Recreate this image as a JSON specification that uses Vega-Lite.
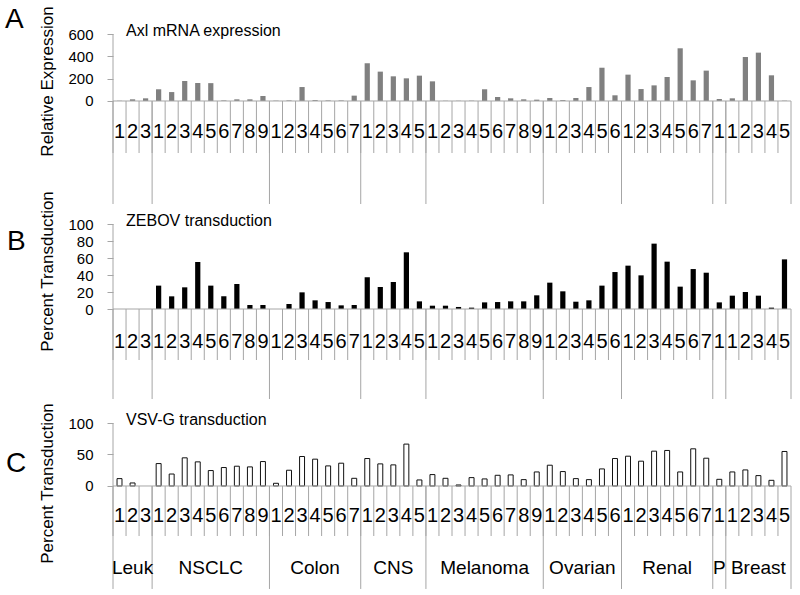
{
  "$schema": "https://vega.github.io/schema/vega-lite/v6.json",
  "background": "white",
  "padding": {"left": 5, "top": 5, "right": 5, "bottom": 5},
  "bounds": "flush",
  "spacing": 0,
  "config": {
    "font": "Liberation Sans",
    "view": {"stroke": null},
    "axis": {"grid": false, "labelColor": "#000000", "titleColor": "#000000", "labelOverlap": false, "labelFlush": false},
    "title": {"color": "#000000"}
  },
  "data": {"values": [
    {"id": "Leuk-1", "grp": "Leuk", "n": "1", "axl": 2, "zebov": 0, "vsv": 11.7},
    {"id": "Leuk-2", "grp": "Leuk", "n": "2", "axl": 15, "zebov": 0, "vsv": 4.8},
    {"id": "Leuk-3", "grp": "Leuk", "n": "3", "axl": 24, "zebov": 0, "vsv": 0},
    {"id": "NSCLC-1", "grp": "NSCLC", "n": "1", "axl": 105, "zebov": 27.5, "vsv": 35.6},
    {"id": "NSCLC-2", "grp": "NSCLC", "n": "2", "axl": 80, "zebov": 14.9, "vsv": 19},
    {"id": "NSCLC-3", "grp": "NSCLC", "n": "3", "axl": 179, "zebov": 25.5, "vsv": 44.7},
    {"id": "NSCLC-4", "grp": "NSCLC", "n": "4", "axl": 161, "zebov": 55.3, "vsv": 38.3},
    {"id": "NSCLC-5", "grp": "NSCLC", "n": "5", "axl": 160, "zebov": 27.5, "vsv": 24.5},
    {"id": "NSCLC-6", "grp": "NSCLC", "n": "6", "axl": 5, "zebov": 15, "vsv": 29.3},
    {"id": "NSCLC-7", "grp": "NSCLC", "n": "7", "axl": 15, "zebov": 29.4, "vsv": 31.4},
    {"id": "NSCLC-8", "grp": "NSCLC", "n": "8", "axl": 15, "zebov": 4.7, "vsv": 30.3},
    {"id": "NSCLC-9", "grp": "NSCLC", "n": "9", "axl": 45, "zebov": 4.7, "vsv": 38.8},
    {"id": "Colon-1", "grp": "Colon", "n": "1", "axl": 3, "zebov": 0, "vsv": 4.3},
    {"id": "Colon-2", "grp": "Colon", "n": "2", "axl": 5, "zebov": 5.9, "vsv": 25},
    {"id": "Colon-3", "grp": "Colon", "n": "3", "axl": 125, "zebov": 19.6, "vsv": 46.8},
    {"id": "Colon-4", "grp": "Colon", "n": "4", "axl": 8, "zebov": 10.2, "vsv": 42.6},
    {"id": "Colon-5", "grp": "Colon", "n": "5", "axl": 5, "zebov": 8.2, "vsv": 31.9},
    {"id": "Colon-6", "grp": "Colon", "n": "6", "axl": 5, "zebov": 4.3, "vsv": 36.2},
    {"id": "Colon-7", "grp": "Colon", "n": "7", "axl": 48, "zebov": 4.7, "vsv": 12.2},
    {"id": "CNS-1", "grp": "CNS", "n": "1", "axl": 337, "zebov": 37.3, "vsv": 43.6},
    {"id": "CNS-2", "grp": "CNS", "n": "2", "axl": 263, "zebov": 25.9, "vsv": 35.1},
    {"id": "CNS-3", "grp": "CNS", "n": "3", "axl": 221, "zebov": 31.8, "vsv": 33.5},
    {"id": "CNS-4", "grp": "CNS", "n": "4", "axl": 203, "zebov": 66.7, "vsv": 66.5},
    {"id": "CNS-5", "grp": "CNS", "n": "5", "axl": 227, "zebov": 9, "vsv": 9.6},
    {"id": "Melanoma-1", "grp": "Melanoma", "n": "1", "axl": 176, "zebov": 3.9, "vsv": 18.1},
    {"id": "Melanoma-2", "grp": "Melanoma", "n": "2", "axl": 2, "zebov": 3.9, "vsv": 12.2},
    {"id": "Melanoma-3", "grp": "Melanoma", "n": "3", "axl": 2, "zebov": 2.4, "vsv": 1.6},
    {"id": "Melanoma-4", "grp": "Melanoma", "n": "4", "axl": 3, "zebov": 1.6, "vsv": 13.3},
    {"id": "Melanoma-5", "grp": "Melanoma", "n": "5", "axl": 105, "zebov": 7.8, "vsv": 11.2},
    {"id": "Melanoma-6", "grp": "Melanoma", "n": "6", "axl": 36, "zebov": 8.2, "vsv": 17},
    {"id": "Melanoma-7", "grp": "Melanoma", "n": "7", "axl": 24, "zebov": 9, "vsv": 17.6},
    {"id": "Melanoma-8", "grp": "Melanoma", "n": "8", "axl": 15, "zebov": 9, "vsv": 10.1},
    {"id": "Melanoma-9", "grp": "Melanoma", "n": "9", "axl": 12, "zebov": 16.1, "vsv": 22.3},
    {"id": "Ovarian-1", "grp": "Ovarian", "n": "1", "axl": 27, "zebov": 31, "vsv": 33},
    {"id": "Ovarian-2", "grp": "Ovarian", "n": "2", "axl": 8, "zebov": 20.8, "vsv": 22.9},
    {"id": "Ovarian-3", "grp": "Ovarian", "n": "3", "axl": 27, "zebov": 8.6, "vsv": 11.7},
    {"id": "Ovarian-4", "grp": "Ovarian", "n": "4", "axl": 125, "zebov": 10.2, "vsv": 10.1},
    {"id": "Ovarian-5", "grp": "Ovarian", "n": "5", "axl": 298, "zebov": 27.5, "vsv": 27.1},
    {"id": "Ovarian-6", "grp": "Ovarian", "n": "6", "axl": 51, "zebov": 43.5, "vsv": 43.6},
    {"id": "Renal-1", "grp": "Renal", "n": "1", "axl": 236, "zebov": 51, "vsv": 47.3},
    {"id": "Renal-2", "grp": "Renal", "n": "2", "axl": 107, "zebov": 39.6, "vsv": 39.4},
    {"id": "Renal-3", "grp": "Renal", "n": "3", "axl": 140, "zebov": 76.9, "vsv": 55.3},
    {"id": "Renal-4", "grp": "Renal", "n": "4", "axl": 215, "zebov": 55.7, "vsv": 56.4},
    {"id": "Renal-5", "grp": "Renal", "n": "5", "axl": 472, "zebov": 26.3, "vsv": 22.3},
    {"id": "Renal-6", "grp": "Renal", "n": "6", "axl": 185, "zebov": 47, "vsv": 59},
    {"id": "Renal-7", "grp": "Renal", "n": "7", "axl": 272, "zebov": 42.7, "vsv": 44.1},
    {"id": "P-1", "grp": "P", "n": "1", "axl": 18, "zebov": 7.8, "vsv": 10.6},
    {"id": "Breast-1", "grp": "Breast", "n": "1", "axl": 24, "zebov": 15.7, "vsv": 22.3},
    {"id": "Breast-2", "grp": "Breast", "n": "2", "axl": 394, "zebov": 20, "vsv": 25.5},
    {"id": "Breast-3", "grp": "Breast", "n": "3", "axl": 433, "zebov": 15.7, "vsv": 16.5},
    {"id": "Breast-4", "grp": "Breast", "n": "4", "axl": 230, "zebov": 1.6, "vsv": 9},
    {"id": "Breast-5", "grp": "Breast", "n": "5", "axl": 3, "zebov": 58.4, "vsv": 54.8}
  ]},
  "vconcat": [
    {
      "width": 678,
      "height": 190,
      "title": {"text": "A", "anchor": "start", "frame": "group", "dx": -108, "offset": -28, "fontSize": 28, "fontWeight": "normal"},
      "layer": [
        {
          "mark": {"type": "bar", "color": "#808080", "width": {"band": 0.4}},
          "encoding": {
            "x": {"field": "id", "type": "nominal", "sort": null, "axis": null, "scale": {"paddingInner": 0, "paddingOuter": 0}},
            "y": {"field": "axl", "type": "quantitative",
              "scale": {"domain": [-1101.5, 600], "nice": false, "zero": false},
              "axis": {"values": [0, 200, 400, 600], "tickCount": 20, "title": "Relative Expression", "domain": false, "tickColor": "#a6a6a6", "tickSize": 6, "labelFontSize": 15, "labelPadding": 14, "labelOverlap": false, "labelFlush": false, "titleFontSize": 17, "titleFontWeight": "normal", "titleX": -66, "titleY": 47, "titleBaseline": "middle", "titleAlign": "center"}},
            "y2": {"datum": 0}
          }
        },
        {
          "mark": {"type": "rule", "color": "#a6a6a6"},
          "encoding": {
            "x": {"field": "id", "type": "nominal", "sort": null, "axis": null, "bandPosition": 0},
            "y": {"datum": 0}, "y2": {"datum": -922.4},
            "strokeOpacity": {"condition": {"test": "datum.n === '1'", "value": 1}, "value": 0}
          }
        },
        {
          "mark": {"type": "rule", "color": "#a6a6a6"},
          "encoding": {
            "x": {"field": "id", "type": "nominal", "sort": null, "axis": null, "bandPosition": 1},
            "y": {"datum": 0}, "y2": {"datum": -922.4},
            "strokeOpacity": {"condition": {"test": "datum.id === 'Breast-5'", "value": 1}, "value": 0}
          }
        },
        {
          "mark": {"type": "rule", "color": "#a6a6a6"},
          "encoding": {
            "x": {"field": "id", "type": "nominal", "sort": null, "axis": null, "bandPosition": 0},
            "y": {"datum": 600}, "y2": {"datum": 0},
            "strokeOpacity": {"condition": {"test": "datum.id === 'Leuk-1'", "value": 1}, "value": 0}
          }
        },
        {
          "mark": {"type": "rule", "color": "#a6a6a6"},
          "encoding": {
            "x": {"field": "id", "type": "nominal", "sort": null, "axis": null, "bandPosition": 0},
            "y": {"datum": 0}, "y2": {"datum": -465.7}
          }
        },
        {
          "mark": {"type": "rule", "color": "#a6a6a6"},
          "encoding": {
            "y": {"datum": 0},
            "strokeOpacity": {"condition": {"test": "datum.id === 'Leuk-1'", "value": 1}, "value": 0}
          }
        },
        {
          "mark": {"type": "text", "fontSize": 20, "baseline": "middle", "align": "center"},
          "encoding": {
            "x": {"field": "id", "type": "nominal", "sort": null, "axis": null},
            "y": {"datum": -277.6},
            "text": {"field": "n"}
          }
        },
        {
          "mark": {"type": "text", "fontSize": 16, "baseline": "middle", "align": "left", "dx": 6.5, "dy": -3},
          "encoding": {
            "x": {"field": "id", "type": "nominal", "sort": null, "axis": null},
            "y": {"datum": 600},
            "text": {"condition": {"test": "datum.id === 'Leuk-1'", "value": "Axl mRNA expression"}, "value": ""}
          }
        }
      ]
    },
    {
      "width": 678,
      "height": 199,
      "title": {"text": "B", "anchor": "start", "frame": "group", "dx": -106, "offset": -65.6, "fontSize": 28, "fontWeight": "normal"},
      "layer": [
        {
          "mark": {"type": "bar", "color": "#000000", "width": {"band": 0.4}},
          "encoding": {
            "x": {"field": "id", "type": "nominal", "sort": null, "axis": null, "scale": {"paddingInner": 0, "paddingOuter": 0}},
            "y": {"field": "zebov", "type": "quantitative",
              "scale": {"domain": [-134.1, 100], "nice": false, "zero": false},
              "axis": {"values": [0, 20, 40, 60, 80, 100], "tickCount": 20, "title": "Percent Transduction", "domain": false, "tickColor": "#a6a6a6", "tickSize": 6, "labelFontSize": 15, "labelPadding": 14, "labelOverlap": false, "labelFlush": false, "titleFontSize": 17, "titleFontWeight": "normal", "titleX": -66, "titleY": 47, "titleBaseline": "middle", "titleAlign": "center"}},
            "y2": {"datum": 0}
          }
        },
        {
          "mark": {"type": "rule", "color": "#a6a6a6"},
          "encoding": {
            "x": {"field": "id", "type": "nominal", "sort": null, "axis": null, "bandPosition": 0},
            "y": {"datum": 0}, "y2": {"datum": -105.9},
            "strokeOpacity": {"condition": {"test": "datum.n === '1'", "value": 1}, "value": 0}
          }
        },
        {
          "mark": {"type": "rule", "color": "#a6a6a6"},
          "encoding": {
            "x": {"field": "id", "type": "nominal", "sort": null, "axis": null, "bandPosition": 1},
            "y": {"datum": 0}, "y2": {"datum": -105.9},
            "strokeOpacity": {"condition": {"test": "datum.id === 'Breast-5'", "value": 1}, "value": 0}
          }
        },
        {
          "mark": {"type": "rule", "color": "#a6a6a6"},
          "encoding": {
            "x": {"field": "id", "type": "nominal", "sort": null, "axis": null, "bandPosition": 0},
            "y": {"datum": 100}, "y2": {"datum": 0},
            "strokeOpacity": {"condition": {"test": "datum.id === 'Leuk-1'", "value": 1}, "value": 0}
          }
        },
        {
          "mark": {"type": "rule", "color": "#a6a6a6"},
          "encoding": {
            "x": {"field": "id", "type": "nominal", "sort": null, "axis": null, "bandPosition": 0},
            "y": {"datum": 0}, "y2": {"datum": -60}
          }
        },
        {
          "mark": {"type": "rule", "color": "#a6a6a6"},
          "encoding": {
            "y": {"datum": 0},
            "strokeOpacity": {"condition": {"test": "datum.id === 'Leuk-1'", "value": 1}, "value": 0}
          }
        },
        {
          "mark": {"type": "text", "fontSize": 20, "baseline": "middle", "align": "center"},
          "encoding": {
            "x": {"field": "id", "type": "nominal", "sort": null, "axis": null},
            "y": {"datum": -38.8},
            "text": {"field": "n"}
          }
        },
        {
          "mark": {"type": "text", "fontSize": 16, "baseline": "middle", "align": "left", "dx": 6.5, "dy": -3},
          "encoding": {
            "x": {"field": "id", "type": "nominal", "sort": null, "axis": null},
            "y": {"datum": 100},
            "text": {"condition": {"test": "datum.id === 'Leuk-1'", "value": "ZEBOV transduction"}, "value": ""}
          }
        }
      ]
    },
    {
      "width": 678,
      "height": 168,
      "title": {"text": "C", "anchor": "start", "frame": "group", "dx": -107, "offset": -75.6, "fontSize": 28, "fontWeight": "normal"},
      "transform": [{"joinaggregate": [{"op": "count", "as": "cnt"}], "groupby": ["grp"]}],
      "layer": [
        {
          "mark": {"type": "bar", "fill": "#ffffff", "stroke": "#111111", "strokeWidth": 1, "width": {"band": 0.38}},
          "encoding": {
            "x": {"field": "id", "type": "nominal", "sort": null, "axis": null, "scale": {"paddingInner": 0, "paddingOuter": 0}},
            "y": {"field": "vsv", "type": "quantitative",
              "scale": {"domain": [-166.7, 100], "nice": false, "zero": false},
              "axis": {"values": [0, 50, 100], "tickCount": 20, "title": "Percent Transduction", "domain": false, "tickColor": "#a6a6a6", "tickSize": 6, "labelFontSize": 15, "labelPadding": 14, "labelOverlap": false, "labelFlush": false, "titleFontSize": 17, "titleFontWeight": "normal", "titleX": -66, "titleY": 60, "titleBaseline": "middle", "titleAlign": "center"}},
            "y2": {"datum": 0},
            "strokeOpacity": {"condition": {"test": "datum.vsv > 0", "value": 1}, "value": 0}
          }
        },
        {
          "mark": {"type": "rule", "color": "#a6a6a6"},
          "encoding": {
            "x": {"field": "id", "type": "nominal", "sort": null, "axis": null, "bandPosition": 0},
            "y": {"datum": 0}, "y2": {"datum": -163.5},
            "strokeOpacity": {"condition": {"test": "datum.n === '1'", "value": 1}, "value": 0}
          }
        },
        {
          "mark": {"type": "rule", "color": "#a6a6a6"},
          "encoding": {
            "x": {"field": "id", "type": "nominal", "sort": null, "axis": null, "bandPosition": 1},
            "y": {"datum": 0}, "y2": {"datum": -163.5},
            "strokeOpacity": {"condition": {"test": "datum.id === 'Breast-5'", "value": 1}, "value": 0}
          }
        },
        {
          "mark": {"type": "rule", "color": "#a6a6a6"},
          "encoding": {
            "x": {"field": "id", "type": "nominal", "sort": null, "axis": null, "bandPosition": 0},
            "y": {"datum": 100}, "y2": {"datum": 0},
            "strokeOpacity": {"condition": {"test": "datum.id === 'Leuk-1'", "value": 1}, "value": 0}
          }
        },
        {
          "mark": {"type": "rule", "color": "#a6a6a6"},
          "encoding": {
            "x": {"field": "id", "type": "nominal", "sort": null, "axis": null, "bandPosition": 0},
            "y": {"datum": 0}, "y2": {"datum": -79.4}
          }
        },
        {
          "mark": {"type": "rule", "color": "#a6a6a6"},
          "encoding": {
            "y": {"datum": 0},
            "strokeOpacity": {"condition": {"test": "datum.id === 'Leuk-1'", "value": 1}, "value": 0}
          }
        },
        {
          "mark": {"type": "text", "fontSize": 20, "baseline": "middle", "align": "center"},
          "encoding": {
            "x": {"field": "id", "type": "nominal", "sort": null, "axis": null},
            "y": {"datum": -47.6},
            "text": {"field": "n"}
          }
        },
        {
          "mark": {"type": "text", "fontSize": 19, "baseline": "middle", "align": "center"},
          "encoding": {
            "x": {"field": "id", "type": "nominal", "sort": null, "axis": null},
            "y": {"datum": -130.2},
            "text": {"condition": {"test": "datum.cnt % 2 === 1 && +datum.n === (datum.cnt + 1) / 2", "field": "grp"}, "value": ""}
          }
        },
        {
          "mark": {"type": "text", "fontSize": 19, "baseline": "middle", "align": "center"},
          "encoding": {
            "x": {"field": "id", "type": "nominal", "sort": null, "axis": null, "bandPosition": 1},
            "y": {"datum": -130.2},
            "text": {"condition": {"test": "datum.cnt % 2 === 0 && +datum.n === datum.cnt / 2", "field": "grp"}, "value": ""}
          }
        },
        {
          "mark": {"type": "text", "fontSize": 16, "baseline": "middle", "align": "left", "dx": 6.5, "dy": -3},
          "encoding": {
            "x": {"field": "id", "type": "nominal", "sort": null, "axis": null},
            "y": {"datum": 100},
            "text": {"condition": {"test": "datum.id === 'Leuk-1'", "value": "VSV-G transduction"}, "value": ""}
          }
        }
      ]
    }
  ]
}
